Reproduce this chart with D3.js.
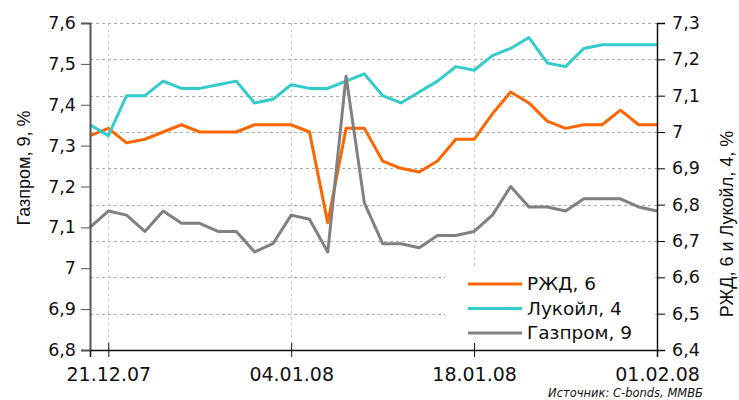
<!DOCTYPE html>
<html>
<head>
<meta charset="utf-8">
<script src="https://cdn.jsdelivr.net/npm/d3@7"></script>
<style>
  body { margin: 0; background: #fff; }
  svg { display: block; }
</style>
</head>
<body>
<div id="chart"></div>
<script>
/**
 * CONSTANTS AND GLOBALS
 * */
const width = 739,
  height = 400,
  margin = { top: 23, bottom: 50, left: 90, right: 82 };

// trading days (weekdays) 20.12.07 - 01.02.08
const dates = [
  "20.12.07", "21.12.07", "24.12.07", "25.12.07", "26.12.07", "27.12.07", "28.12.07", "31.12.07",
  "01.01.08", "02.01.08", "03.01.08", "04.01.08",
  "07.01.08", "08.01.08", "09.01.08", "10.01.08", "11.01.08",
  "14.01.08", "15.01.08", "16.01.08", "17.01.08", "18.01.08",
  "21.01.08", "22.01.08", "23.01.08", "24.01.08", "25.01.08",
  "28.01.08", "29.01.08", "30.01.08", "31.01.08", "01.02.08"
];
const tickDates = ["21.12.07", "04.01.08", "18.01.08", "01.02.08"];

// right axis
const rzd = [6.99, 7.01, 6.97, 6.98, 7.0, 7.02, 7.0, 7.0, 7.0, 7.02, 7.02, 7.02,
  7.0, 6.75, 7.01, 7.01, 6.92, 6.90, 6.89, 6.92, 6.98, 6.98,
  7.05, 7.11, 7.08, 7.03, 7.01, 7.02, 7.02, 7.06, 7.02, 7.02];
const lukoil = [7.02, 6.99, 7.10, 7.10, 7.14, 7.12, 7.12, 7.13, 7.14, 7.08, 7.09, 7.13,
  7.12, 7.12, 7.14, 7.16, 7.10, 7.08, 7.11, 7.14, 7.18, 7.17,
  7.21, 7.23, 7.26, 7.19, 7.18, 7.23, 7.24, 7.24, 7.24, 7.24];
// left axis
const gazprom = [7.10, 7.14, 7.13, 7.09, 7.14, 7.11, 7.11, 7.09, 7.09, 7.04, 7.06, 7.13,
  7.12, 7.04, 7.47, 7.16, 7.06, 7.06, 7.05, 7.08, 7.08, 7.09,
  7.13, 7.20, 7.15, 7.15, 7.14, 7.17, 7.17, 7.17, 7.15, 7.14];

const leftTicks = [6.8, 6.9, 7.0, 7.1, 7.2, 7.3, 7.4, 7.5, 7.6];
const rightTicks = [6.4, 6.5, 6.6, 6.7, 6.8, 6.9, 7.0, 7.1, 7.2, 7.3];

const seriesNames = ["РЖД, 6", "Лукойл, 4", "Газпром, 9"];
const colors = ["#ff6600", "#33cccc", "#808080"];

const fmt = v => (Math.round(v * 10) / 10).toString().replace(".", ",");

const svg = d3.select("#chart")
  .append("svg")
  .attr("width", width)
  .attr("height", height)
  .style("font-family", "'DejaVu Sans', Verdana, sans-serif");

const x = d3.scalePoint()
  .domain(dates)
  .range([margin.left, width - margin.right]);

const yLeft = d3.scaleLinear()
  .domain([6.8, 7.6])
  .range([height - margin.bottom, margin.top]);

const yRight = d3.scaleLinear()
  .domain([6.4, 7.3])
  .range([height - margin.bottom, margin.top]);

// + GRID
const grid = svg.append("g");
grid.selectAll("line.h")
  .data(rightTicks.filter(d => d > 6.4))
  .join("line")
  .attr("x1", margin.left)
  .attr("x2", width - margin.right)
  .attr("y1", d => Math.round(yRight(d)) + 0.5)
  .attr("y2", d => Math.round(yRight(d)) + 0.5)
  .attr("stroke", "#aaa")
  .attr("stroke-dasharray", "3,3");

grid.selectAll("line.v")
  .data(tickDates.slice(0, -1))
  .join("line")
  .attr("x1", d => Math.round(x(d)) + 0.5)
  .attr("x2", d => Math.round(x(d)) + 0.5)
  .attr("y1", margin.top)
  .attr("y2", height - margin.bottom)
  .attr("stroke", "#ccc")
  .attr("stroke-dasharray", "3,3");

// + LINES
const lineRight = d3.line()
  .x((d, i) => x(dates[i]))
  .y(d => yRight(d));
const lineLeft = d3.line()
  .x((d, i) => x(dates[i]))
  .y(d => yLeft(d));

svg.append("path").datum(rzd)
  .attr("d", lineRight).attr("fill", "none")
  .attr("stroke", colors[0]).attr("stroke-width", 3).attr("stroke-linejoin", "round");
svg.append("path").datum(lukoil)
  .attr("d", lineRight).attr("fill", "none")
  .attr("stroke", colors[1]).attr("stroke-width", 3).attr("stroke-linejoin", "round");
svg.append("path").datum(gazprom)
  .attr("d", lineLeft).attr("fill", "none")
  .attr("stroke", colors[2]).attr("stroke-width", 3).attr("stroke-linejoin", "round");

// + LEGEND
const legend = svg.append("g");
legend.append("rect")
  .attr("x", 445).attr("y", 268)
  .attr("width", 210).attr("height", 80)
  .attr("fill", "#fff");
const item = legend.selectAll("g")
  .data(seriesNames)
  .join("g")
  .attr("transform", (d, i) => `translate(468,${284 + i * 24.5})`);
item.append("line")
  .attr("x1", 0).attr("x2", 54)
  .attr("stroke", (d, i) => colors[i])
  .attr("stroke-width", 3);
item.append("text")
  .attr("x", 59).attr("dy", "0.35em")
  .attr("font-size", 18.5)
  .attr("fill", "#111")
  .text(d => d);

// + AXES
const axisLeft = d3.axisLeft(yLeft).tickValues(leftTicks).tickFormat(fmt).tickSize(9).tickPadding(5);
const gL = svg.append("g")
  .attr("transform", `translate(${margin.left},0)`)
  .call(axisLeft);
gL.select(".domain").attr("stroke", "#555").attr("stroke-width", 2);
gL.selectAll(".tick line").attr("stroke", "#555");

const axisRight = d3.axisRight(yRight).tickValues(rightTicks).tickFormat(fmt).tickSize(8).tickPadding(7);
const gR = svg.append("g")
  .attr("transform", `translate(${width - margin.right},0)`)
  .call(axisRight);
gR.select(".domain").attr("stroke", "#111").attr("stroke-width", 1.5);

const axisBottom = d3.axisBottom(x).tickValues(tickDates).tickSize(7).tickPadding(11);
const gB = svg.append("g")
  .attr("transform", `translate(0,${height - margin.bottom})`)
  .call(axisBottom);
gB.select(".domain").attr("stroke", "#111").attr("stroke-width", 1.5);
gB.selectAll(".tick line").attr("y1", -7).attr("stroke", "#111");

svg.selectAll(".tick text")
  .attr("font-size", 17.5)
  .attr("font-family", "'DejaVu Sans', Verdana, sans-serif")
  .attr("fill", "#111");
gB.selectAll(".tick text").attr("font-size", 19);

// + TITLES
svg.append("text")
  .attr("transform", "translate(30,168) rotate(-90)")
  .attr("text-anchor", "middle")
  .attr("font-family", "'Liberation Sans', Arial, sans-serif")
  .attr("font-size", 18)
  .attr("fill", "#111")
  .text("Газпром, 9, %");

svg.append("text")
  .attr("transform", "translate(733,224) rotate(-90)")
  .attr("text-anchor", "middle")
  .attr("font-family", "'Liberation Sans', Arial, sans-serif")
  .attr("font-size", 18)
  .attr("fill", "#111")
  .text("РЖД, 6 и Лукойл, 4, %");

svg.append("text")
  .attr("x", 703).attr("y", 397)
  .attr("text-anchor", "end")
  .attr("font-size", 11.5)
  .attr("font-style", "italic")
  .attr("fill", "#111")
  .text("Источник: C-bonds, ММВБ");
</script>
</body>
</html>
